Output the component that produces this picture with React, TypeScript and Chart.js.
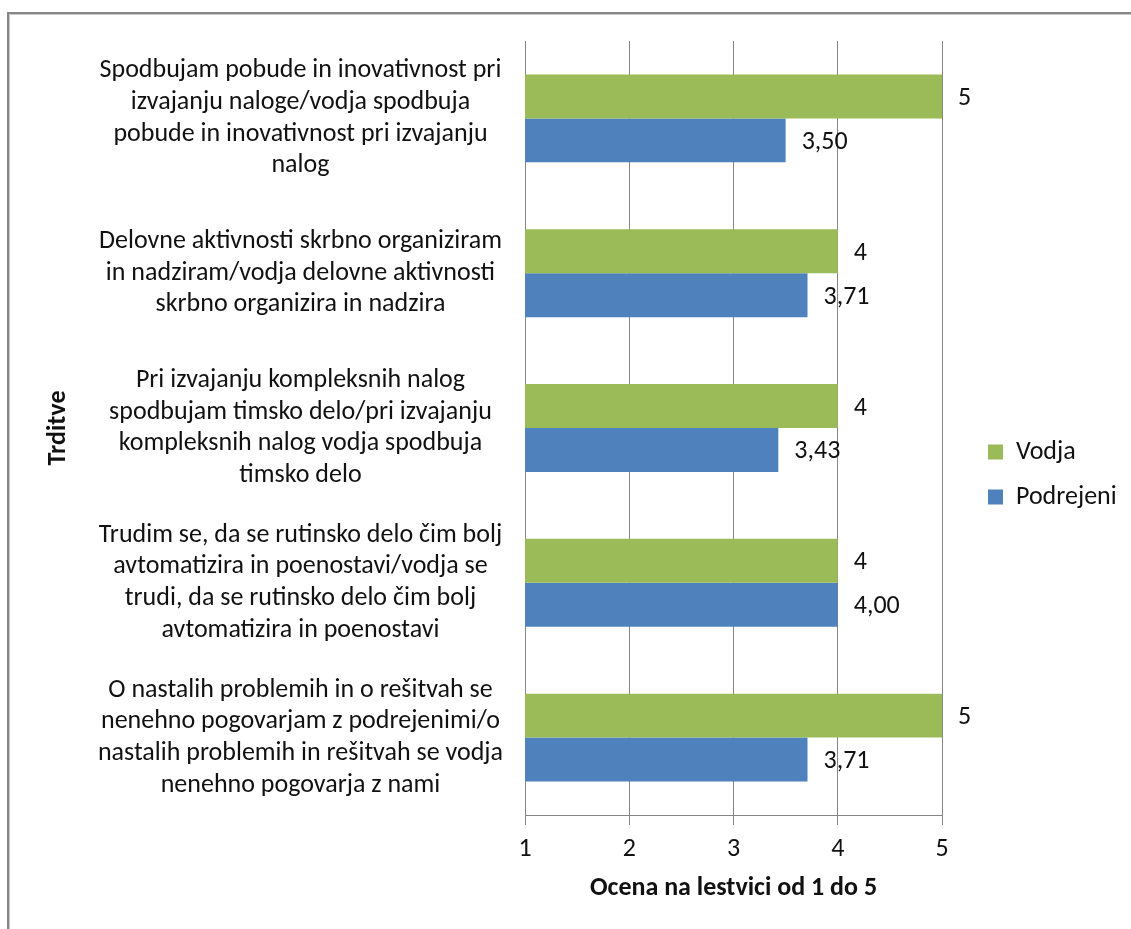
import React, { useEffect, useRef } from "react";
import { Chart, registerables } from "chart.js";

Chart.register(...registerables);

// Statements (multi-line category labels), top to bottom
const categories: string[][] = [
  ["Spodbujam pobude in inovativnost pri", "izvajanju naloge/vodja spodbuja", "pobude in inovativnost pri izvajanju", "nalog"],
  ["Delovne aktivnosti skrbno organiziram", "in nadziram/vodja delovne aktivnosti", "skrbno organizira in nadzira"],
  ["Pri izvajanju kompleksnih nalog", "spodbujam timsko delo/pri izvajanju", "kompleksnih nalog vodja spodbuja", "timsko delo"],
  ["Trudim se, da se rutinsko delo čim bolj", "avtomatizira in poenostavi/vodja se", "trudi, da se rutinsko delo čim bolj", "avtomatizira in poenostavi"],
  ["O nastalih problemih in o rešitvah se", "nenehno pogovarjam z podrejenimi/o", "nastalih problemih in rešitvah se vodja", "nenehno pogovarja z nami"],
];

const seriesNames = ["Vodja", "Podrejeni"];
const vodja = [5, 4, 4, 4, 5];
const podrejeni = [3.5, 3.71, 3.43, 4.0, 3.71];
const labelDecimals = [0, 2];
const seriesColors = ["#9BBB59", "#4F81BD"];

const xTicks = [1, 2, 3, 4, 5];
const xTitle = "Ocena na lestvici od 1 do 5";
const yTitle = "Trditve";

const FONT = "Carlito, Lato, sans-serif";
const FS = 26;
const TEXT = "#111111";
const GRID = "#868686";

const W = 1131;
const H = 929;

// Grey frame along the top and left edges
const framePlugin = {
  id: "frame",
  beforeDraw(chart: any) {
    const ctx = chart.ctx;
    ctx.save();
    ctx.fillStyle = "#ffffff";
    ctx.fillRect(0, 0, chart.width, chart.height);
    ctx.fillStyle = "#878787";
    ctx.fillRect(7, 12, chart.width - 7, 2);
    ctx.fillRect(7, 12, 2, chart.height - 12);
    ctx.fillStyle = "#c8c8c8";
    ctx.fillRect(9, 14, chart.width - 9, 1);
    ctx.fillRect(9, 14, 1, chart.height - 14);
    ctx.restore();
  },
};

// Value labels just past the end of each bar
const valueLabelPlugin = {
  id: "valueLabels",
  afterDatasetsDraw(chart: any) {
    const ctx = chart.ctx;
    ctx.save();
    ctx.font = `${FS}px ${FONT}`;
    ctx.fillStyle = TEXT;
    ctx.textAlign = "left";
    ctx.textBaseline = "middle";
    chart.data.datasets.forEach((ds: any, di: number) => {
      const meta = chart.getDatasetMeta(di);
      meta.data.forEach((bar: any, i: number) => {
        const v = ds.data[i] as number;
        const txt = v.toFixed(labelDecimals[di]).replace(".", ",");
        ctx.fillText(txt, bar.x + 16, bar.y + 2);
      });
    });
    ctx.restore();
  },
};

// Nudge the legend away from the plot area
const legendShiftPlugin = {
  id: "legendShift",
  afterLayout(chart: any) {
    const lg = chart.legend;
    if (lg) {
      lg.left += 27;
      lg.right += 27;
    }
  },
};

export default function App() {
  const canvasRef = useRef<HTMLCanvasElement | null>(null);

  useEffect(() => {
    if (!canvasRef.current) return;
    const chart = new Chart(canvasRef.current, {
      type: "bar",
      data: {
        labels: categories,
        datasets: [
          {
            label: seriesNames[0],
            data: vodja,
            backgroundColor: seriesColors[0],
            borderWidth: 0,
            categoryPercentage: 0.568,
            barPercentage: 1,
          },
          {
            label: seriesNames[1],
            data: podrejeni,
            backgroundColor: seriesColors[1],
            borderWidth: 0,
            categoryPercentage: 0.568,
            barPercentage: 1,
          },
        ],
      },
      options: {
        indexAxis: "y",
        responsive: false,
        maintainAspectRatio: false,
        animation: false,
        layout: { padding: { left: 10, top: 41, right: 0, bottom: 21 } },
        plugins: {
          tooltip: { enabled: false },
          legend: {
            position: "right",
            labels: {
              boxWidth: 15,
              boxHeight: 15,
              padding: 19,
              color: TEXT,
              font: { family: FONT, size: FS },
            },
          },
        },
        scales: {
          x: {
            type: "linear",
            min: xTicks[0],
            max: xTicks[xTicks.length - 1],
            ticks: {
              stepSize: 1,
              color: TEXT,
              padding: 9,
              font: { family: FONT, size: FS },
              callback: (v: any) => String(v),
            },
            grid: { color: GRID, lineWidth: 1, tickLength: 10, drawTicks: true },
            border: { display: true, color: GRID, width: 1 },
            title: {
              display: true,
              text: xTitle,
              color: TEXT,
              padding: { top: 0, bottom: 4 },
              font: { family: FONT, size: FS, weight: "bold" },
            },
            afterFit: (scale: any) => {
              scale.height = 93;
              // keep room on the right for the value labels and legend
              scale.paddingRight = 189;
            },
          },
          y: {
            type: "category",
            ticks: {
              autoSkip: false,
              crossAlign: "center",
              padding: 22,
              color: TEXT,
              font: { family: FONT, size: FS, lineHeight: 1.22 },
            },
            grid: { display: false, drawTicks: false },
            border: { display: true, color: GRID, width: 1 },
            title: {
              display: true,
              text: yTitle,
              color: TEXT,
              padding: { top: 33, bottom: 0 },
              font: { family: FONT, size: FS, weight: "bold" },
            },
            afterFit: (scale: any) => {
              scale.width = 515;
              scale.paddingTop = 0;
              scale.paddingBottom = 0;
            },
          },
        },
      } as any,
      plugins: [framePlugin, valueLabelPlugin, legendShiftPlugin],
    });
    return () => chart.destroy();
  }, []);

  return (
    <div style={{ position: "absolute", left: 0, top: 0, width: W, height: H, background: "#fff" }}>
      <canvas ref={canvasRef} width={W} height={H} style={{ display: "block", width: W, height: H }} />
    </div>
  );
}
